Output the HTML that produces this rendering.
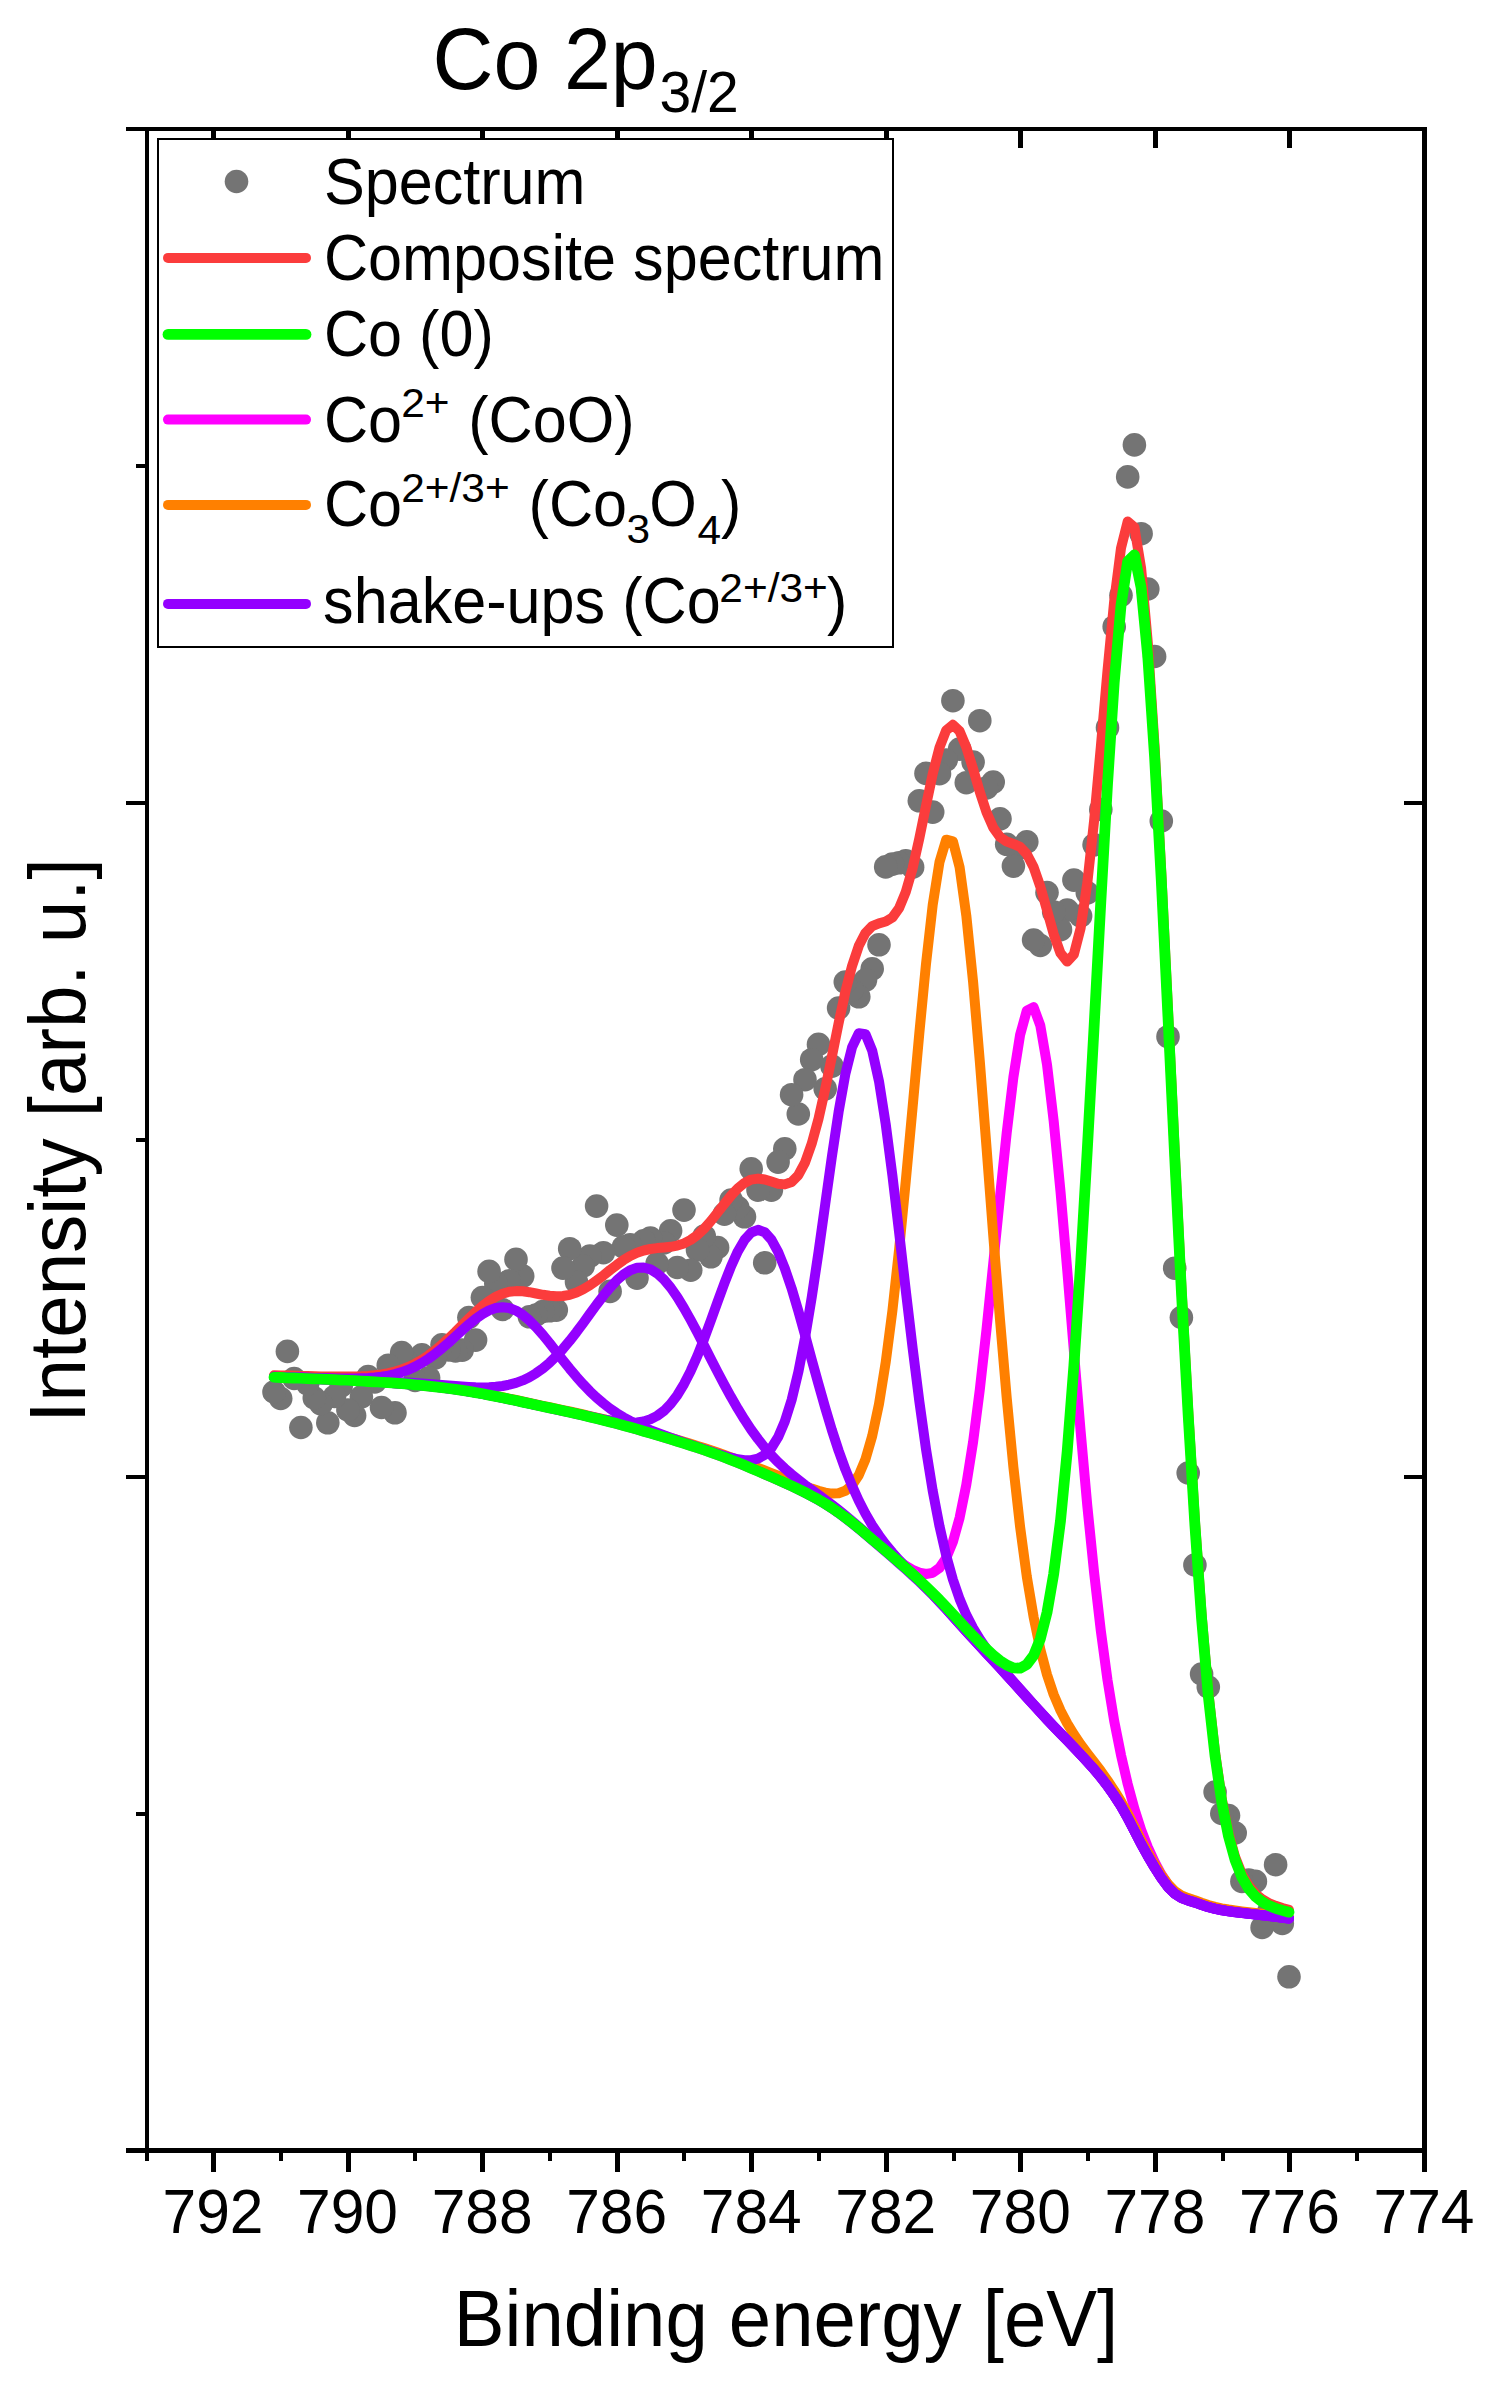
<!DOCTYPE html><html><head><meta charset="utf-8"><title>Co 2p3/2</title>
<style>html,body{margin:0;padding:0;background:#fff;}svg{display:block;}text{font-family:"Liberation Sans",sans-serif;fill:#000;}</style></head><body>
<svg width="1499" height="2394" viewBox="0 0 1499 2394">
<rect x="0" y="0" width="1499" height="2394" fill="#fff"/>
<g fill="#747474">
<circle cx="1289.0" cy="1976.8" r="11.8"/>
<circle cx="1282.3" cy="1923.4" r="11.8"/>
<circle cx="1275.6" cy="1864.7" r="11.8"/>
<circle cx="1268.8" cy="1911.5" r="11.8"/>
<circle cx="1262.1" cy="1927.5" r="11.8"/>
<circle cx="1255.4" cy="1881.4" r="11.8"/>
<circle cx="1248.7" cy="1880.0" r="11.8"/>
<circle cx="1241.9" cy="1881.4" r="11.8"/>
<circle cx="1235.2" cy="1833.0" r="11.8"/>
<circle cx="1228.5" cy="1815.5" r="11.8"/>
<circle cx="1221.8" cy="1813.5" r="11.8"/>
<circle cx="1215.1" cy="1792.0" r="11.8"/>
<circle cx="1208.3" cy="1687.0" r="11.8"/>
<circle cx="1201.6" cy="1674.0" r="11.8"/>
<circle cx="1194.9" cy="1565.0" r="11.8"/>
<circle cx="1188.2" cy="1473.0" r="11.8"/>
<circle cx="1181.4" cy="1317.5" r="11.8"/>
<circle cx="1174.7" cy="1268.2" r="11.8"/>
<circle cx="1168.0" cy="1036.7" r="11.8"/>
<circle cx="1161.3" cy="821.0" r="11.8"/>
<circle cx="1154.6" cy="656.5" r="11.8"/>
<circle cx="1147.8" cy="589.0" r="11.8"/>
<circle cx="1141.1" cy="533.7" r="11.8"/>
<circle cx="1134.4" cy="444.9" r="11.8"/>
<circle cx="1127.7" cy="476.9" r="11.8"/>
<circle cx="1121.0" cy="595.3" r="11.8"/>
<circle cx="1114.2" cy="626.7" r="11.8"/>
<circle cx="1107.5" cy="727.7" r="11.8"/>
<circle cx="1100.8" cy="809.5" r="11.8"/>
<circle cx="1094.1" cy="844.8" r="11.8"/>
<circle cx="1087.3" cy="892.8" r="11.8"/>
<circle cx="1080.6" cy="916.0" r="11.8"/>
<circle cx="1073.9" cy="880.1" r="11.8"/>
<circle cx="1067.2" cy="910.1" r="11.8"/>
<circle cx="1060.5" cy="929.7" r="11.8"/>
<circle cx="1053.7" cy="912.1" r="11.8"/>
<circle cx="1047.0" cy="892.6" r="11.8"/>
<circle cx="1040.3" cy="945.5" r="11.8"/>
<circle cx="1033.6" cy="940.0" r="11.8"/>
<circle cx="1026.8" cy="841.8" r="11.8"/>
<circle cx="1020.1" cy="848.0" r="11.8"/>
<circle cx="1013.4" cy="866.1" r="11.8"/>
<circle cx="1006.7" cy="844.3" r="11.8"/>
<circle cx="1000.0" cy="818.8" r="11.8"/>
<circle cx="993.2" cy="782.1" r="11.8"/>
<circle cx="986.5" cy="788.0" r="11.8"/>
<circle cx="979.8" cy="720.7" r="11.8"/>
<circle cx="973.1" cy="762.1" r="11.8"/>
<circle cx="966.3" cy="782.7" r="11.8"/>
<circle cx="959.6" cy="749.1" r="11.8"/>
<circle cx="952.9" cy="700.7" r="11.8"/>
<circle cx="946.2" cy="760.0" r="11.8"/>
<circle cx="939.5" cy="773.7" r="11.8"/>
<circle cx="932.7" cy="812.1" r="11.8"/>
<circle cx="926.0" cy="773.4" r="11.8"/>
<circle cx="919.3" cy="800.8" r="11.8"/>
<circle cx="912.6" cy="867.2" r="11.8"/>
<circle cx="905.8" cy="860.8" r="11.8"/>
<circle cx="899.1" cy="862.8" r="11.8"/>
<circle cx="892.4" cy="864.1" r="11.8"/>
<circle cx="885.7" cy="866.9" r="11.8"/>
<circle cx="879.0" cy="944.8" r="11.8"/>
<circle cx="872.2" cy="968.8" r="11.8"/>
<circle cx="865.5" cy="980.1" r="11.8"/>
<circle cx="858.8" cy="996.8" r="11.8"/>
<circle cx="852.1" cy="990.0" r="11.8"/>
<circle cx="845.3" cy="982.1" r="11.8"/>
<circle cx="838.6" cy="1008.1" r="11.8"/>
<circle cx="831.9" cy="1066.1" r="11.8"/>
<circle cx="825.2" cy="1088.8" r="11.8"/>
<circle cx="818.5" cy="1044.4" r="11.8"/>
<circle cx="811.7" cy="1059.7" r="11.8"/>
<circle cx="805.0" cy="1079.7" r="11.8"/>
<circle cx="798.3" cy="1114.0" r="11.8"/>
<circle cx="791.6" cy="1094.7" r="11.8"/>
<circle cx="784.8" cy="1148.8" r="11.8"/>
<circle cx="778.1" cy="1162.1" r="11.8"/>
<circle cx="771.4" cy="1190.1" r="11.8"/>
<circle cx="764.7" cy="1262.8" r="11.8"/>
<circle cx="758.0" cy="1190.1" r="11.8"/>
<circle cx="751.2" cy="1168.8" r="11.8"/>
<circle cx="744.5" cy="1216.8" r="11.8"/>
<circle cx="737.8" cy="1207.5" r="11.8"/>
<circle cx="731.1" cy="1200.1" r="11.8"/>
<circle cx="724.4" cy="1214.1" r="11.8"/>
<circle cx="717.6" cy="1247.5" r="11.8"/>
<circle cx="710.9" cy="1256.8" r="11.8"/>
<circle cx="704.2" cy="1236.1" r="11.8"/>
<circle cx="697.5" cy="1250.0" r="11.8"/>
<circle cx="690.7" cy="1270.2" r="11.8"/>
<circle cx="684.0" cy="1210.1" r="11.8"/>
<circle cx="677.3" cy="1267.5" r="11.8"/>
<circle cx="670.6" cy="1230.8" r="11.8"/>
<circle cx="663.9" cy="1243.0" r="11.8"/>
<circle cx="657.1" cy="1263.5" r="11.8"/>
<circle cx="650.4" cy="1238.1" r="11.8"/>
<circle cx="643.7" cy="1240.8" r="11.8"/>
<circle cx="637.0" cy="1278.1" r="11.8"/>
<circle cx="630.2" cy="1244.8" r="11.8"/>
<circle cx="623.5" cy="1246.8" r="11.8"/>
<circle cx="616.8" cy="1225.1" r="11.8"/>
<circle cx="610.1" cy="1291.4" r="11.8"/>
<circle cx="603.4" cy="1252.7" r="11.8"/>
<circle cx="596.6" cy="1206.1" r="11.8"/>
<circle cx="589.9" cy="1256.1" r="11.8"/>
<circle cx="583.2" cy="1266.0" r="11.8"/>
<circle cx="576.5" cy="1282.1" r="11.8"/>
<circle cx="569.7" cy="1248.7" r="11.8"/>
<circle cx="563.0" cy="1268.1" r="11.8"/>
<circle cx="556.3" cy="1310.1" r="11.8"/>
<circle cx="549.6" cy="1310.8" r="11.8"/>
<circle cx="542.9" cy="1311.5" r="11.8"/>
<circle cx="536.1" cy="1315.0" r="11.8"/>
<circle cx="529.4" cy="1316.8" r="11.8"/>
<circle cx="522.7" cy="1276.1" r="11.8"/>
<circle cx="516.0" cy="1259.4" r="11.8"/>
<circle cx="509.2" cy="1280.8" r="11.8"/>
<circle cx="502.5" cy="1309.5" r="11.8"/>
<circle cx="495.8" cy="1283.4" r="11.8"/>
<circle cx="489.1" cy="1271.4" r="11.8"/>
<circle cx="482.4" cy="1297.5" r="11.8"/>
<circle cx="475.6" cy="1340.1" r="11.8"/>
<circle cx="468.9" cy="1317.5" r="11.8"/>
<circle cx="462.2" cy="1350.1" r="11.8"/>
<circle cx="455.5" cy="1351.0" r="11.8"/>
<circle cx="448.8" cy="1350.0" r="11.8"/>
<circle cx="442.0" cy="1344.8" r="11.8"/>
<circle cx="435.3" cy="1358.0" r="11.8"/>
<circle cx="428.6" cy="1377.8" r="11.8"/>
<circle cx="421.9" cy="1354.9" r="11.8"/>
<circle cx="415.1" cy="1380.4" r="11.8"/>
<circle cx="408.4" cy="1363.4" r="11.8"/>
<circle cx="401.7" cy="1352.5" r="11.8"/>
<circle cx="395.0" cy="1412.8" r="11.8"/>
<circle cx="388.3" cy="1365.2" r="11.8"/>
<circle cx="381.5" cy="1407.5" r="11.8"/>
<circle cx="374.8" cy="1382.0" r="11.8"/>
<circle cx="368.1" cy="1376.5" r="11.8"/>
<circle cx="361.4" cy="1396.8" r="11.8"/>
<circle cx="354.6" cy="1415.5" r="11.8"/>
<circle cx="347.9" cy="1410.0" r="11.8"/>
<circle cx="341.2" cy="1386.0" r="11.8"/>
<circle cx="334.5" cy="1396.5" r="11.8"/>
<circle cx="327.8" cy="1422.8" r="11.8"/>
<circle cx="321.0" cy="1404.0" r="11.8"/>
<circle cx="314.3" cy="1398.0" r="11.8"/>
<circle cx="307.6" cy="1383.8" r="11.8"/>
<circle cx="300.9" cy="1427.5" r="11.8"/>
<circle cx="294.1" cy="1378.5" r="11.8"/>
<circle cx="287.4" cy="1351.4" r="11.8"/>
<circle cx="280.7" cy="1398.5" r="11.8"/>
<circle cx="274.0" cy="1392.0" r="11.8"/>
</g>
<polyline points="1289.0,1909.9 1282.3,1908.1 1275.6,1905.8 1268.8,1903.0 1262.1,1899.2 1255.4,1893.8 1248.7,1885.8 1241.9,1874.2 1235.2,1857.2 1228.5,1832.8 1221.8,1798.9 1215.1,1752.7 1208.3,1692.0 1201.6,1614.8 1194.9,1520.6 1188.2,1410.7 1181.4,1286.5 1174.7,1151.2 1168.0,1010.4 1161.3,872.5 1154.6,746.8 1147.8,642.8 1141.1,568.0 1134.4,527.2 1127.7,521.5 1121.0,548.1 1114.2,601.1 1107.5,670.8 1100.8,747.2 1094.1,820.7 1087.3,883.0 1080.6,928.3 1073.9,954.3 1067.2,961.5 1060.5,953.2 1053.7,934.2 1047.0,910.2 1040.3,886.5 1033.6,867.1 1026.8,854.0 1020.1,846.9 1013.4,843.9 1006.7,841.6 1000.0,837.0 993.2,827.6 986.5,812.3 979.8,791.9 973.1,768.9 966.3,747.2 959.6,731.2 952.9,724.8 946.2,730.3 939.5,747.5 932.7,774.0 926.0,805.8 919.3,838.6 912.6,868.3 905.8,891.9 899.1,908.2 892.4,917.5 885.7,921.5 879.0,923.3 872.2,926.1 865.5,932.9 858.8,945.8 852.1,965.8 845.3,992.1 838.6,1023.2 831.9,1056.4 825.2,1089.1 818.5,1118.9 811.7,1143.7 805.0,1162.6 798.3,1175.2 791.6,1182.0 784.8,1184.4 778.1,1183.7 771.4,1181.6 764.7,1179.5 758.0,1178.6 751.2,1179.6 744.5,1182.9 737.8,1188.3 731.1,1195.5 724.4,1203.8 717.6,1212.5 710.9,1221.0 704.2,1228.6 697.5,1235.0 690.7,1239.9 684.0,1243.4 677.3,1245.6 670.6,1246.8 663.9,1247.5 657.1,1248.1 650.4,1249.0 643.7,1250.5 637.0,1252.8 630.2,1256.0 623.5,1260.1 616.8,1264.9 610.1,1270.0 603.4,1275.4 596.6,1280.5 589.9,1285.3 583.2,1289.3 576.5,1292.5 569.7,1294.8 563.0,1296.0 556.3,1296.3 549.6,1295.8 542.9,1294.8 536.1,1293.5 529.4,1292.2 522.7,1291.3 516.0,1291.1 509.2,1291.8 502.5,1293.7 495.8,1296.8 489.1,1301.0 482.4,1306.1 475.6,1312.0 468.9,1318.4 462.2,1325.0 455.5,1331.8 448.8,1338.3 442.0,1344.5 435.3,1350.2 428.6,1355.3 421.9,1359.8 415.1,1363.7 408.4,1366.9 401.7,1369.5 395.0,1371.6 388.3,1373.2 381.5,1374.4 374.8,1375.3 368.1,1375.9 361.4,1376.3 354.6,1376.5 347.9,1376.6 341.2,1376.6 334.5,1376.6 327.8,1376.5 321.0,1376.4 314.3,1376.2 307.6,1376.1 300.9,1375.9 294.1,1375.8 287.4,1375.6 280.7,1375.5 274.0,1375.3" fill="none" stroke="#FB3C3C" stroke-width="10" stroke-linejoin="round" stroke-linecap="round"/>
<polyline points="1289.0,1918.2 1282.3,1917.3 1275.6,1916.5 1268.8,1915.6 1262.1,1914.9 1255.4,1914.1 1248.7,1913.3 1241.9,1912.5 1235.2,1911.7 1228.5,1910.7 1221.8,1909.6 1215.1,1908.2 1208.3,1906.4 1201.6,1904.1 1194.9,1901.6 1188.2,1899.5 1181.4,1896.6 1174.7,1892.0 1168.0,1884.5 1161.3,1874.3 1154.6,1861.8 1147.8,1847.1 1141.1,1829.7 1134.4,1808.8 1127.7,1784.0 1121.0,1755.1 1114.2,1721.0 1107.5,1680.0 1100.8,1630.7 1094.1,1572.6 1087.3,1505.7 1080.6,1431.0 1073.9,1351.1 1067.2,1269.7 1060.5,1191.4 1053.7,1121.3 1047.0,1064.5 1040.3,1025.5 1033.6,1007.1 1026.8,1010.6 1020.1,1034.9 1013.4,1077.1 1006.7,1132.8 1000.0,1196.8 993.2,1263.9 986.5,1329.5 979.8,1389.7 973.1,1441.9 966.3,1484.7 959.6,1517.8 952.9,1541.9 946.2,1558.1 939.5,1567.9 932.7,1572.8 926.0,1574.0 919.3,1572.7 912.6,1569.8 905.8,1565.8 899.1,1561.1 892.4,1556.0 885.7,1550.6 879.0,1545.1 872.2,1539.5 865.5,1533.9 858.8,1528.3 852.1,1522.9 845.3,1517.7 838.6,1512.8 831.9,1508.2 825.2,1503.9 818.5,1499.9 811.7,1496.2 805.0,1492.7 798.3,1489.4 791.6,1486.2 784.8,1483.1 778.1,1480.2 771.4,1477.2 764.7,1474.3 758.0,1471.3 751.2,1468.4 744.5,1465.6 737.8,1462.8 731.1,1460.1 724.4,1457.5 717.6,1455.0 710.9,1452.5 704.2,1450.2 697.5,1447.9 690.7,1445.7 684.0,1443.6 677.3,1441.5 670.6,1439.4 663.9,1437.4 657.1,1435.3 650.4,1433.3 643.7,1431.4 637.0,1429.4 630.2,1427.5 623.5,1425.6 616.8,1423.8 610.1,1422.0 603.4,1420.3 596.6,1418.7 589.9,1417.1 583.2,1415.5 576.5,1414.0 569.7,1412.4 563.0,1411.0 556.3,1409.5 549.6,1408.0 542.9,1406.6 536.1,1405.1 529.4,1403.6 522.7,1402.2 516.0,1400.7 509.2,1399.3 502.5,1397.9 495.8,1396.5 489.1,1395.2 482.4,1393.9 475.6,1392.7 468.9,1391.6 462.2,1390.5 455.5,1389.5 448.8,1388.6 442.0,1387.7 435.3,1386.9 428.6,1386.2 421.9,1385.5 415.1,1384.9 408.4,1384.3 401.7,1383.8 395.0,1383.3 388.3,1382.8 381.5,1382.4 374.8,1382.0 368.1,1381.6 361.4,1381.2 354.6,1380.8 347.9,1380.5 341.2,1380.1 334.5,1379.8 327.8,1379.5 321.0,1379.2 314.3,1378.9 307.6,1378.6 300.9,1378.4 294.1,1378.1 287.4,1377.8 280.7,1377.6 274.0,1377.4" fill="none" stroke="#FF00FF" stroke-width="10" stroke-linejoin="round" stroke-linecap="round"/>
<polyline points="1289.0,1917.3 1282.3,1916.4 1275.6,1915.5 1268.8,1914.6 1262.1,1913.8 1255.4,1913.0 1248.7,1912.2 1241.9,1911.4 1235.2,1910.5 1228.5,1909.5 1221.8,1908.3 1215.1,1906.9 1208.3,1905.0 1201.6,1902.7 1194.9,1900.2 1188.2,1898.1 1181.4,1895.4 1174.7,1891.0 1168.0,1884.0 1161.3,1874.9 1154.6,1864.2 1147.8,1852.5 1141.1,1840.1 1134.4,1826.8 1127.7,1813.6 1121.0,1801.3 1114.2,1790.4 1107.5,1780.3 1100.8,1770.9 1094.1,1762.1 1087.3,1753.3 1080.6,1744.3 1073.9,1734.4 1067.2,1723.4 1060.5,1710.5 1053.7,1694.6 1047.0,1674.6 1040.3,1649.2 1033.6,1616.9 1026.8,1576.6 1020.1,1526.9 1013.4,1467.3 1006.7,1397.8 1000.0,1319.6 993.2,1234.9 986.5,1147.2 979.8,1061.2 973.1,982.0 966.3,915.6 959.6,867.3 952.9,841.3 946.2,839.7 939.5,862.0 932.7,905.0 926.0,964.0 919.3,1033.4 912.6,1107.3 905.8,1180.8 899.1,1249.6 892.4,1310.7 885.7,1362.3 879.0,1404.0 872.2,1436.0 865.5,1459.2 858.8,1475.1 852.1,1485.1 845.3,1490.8 838.6,1493.3 831.9,1493.6 825.2,1492.6 818.5,1490.8 811.7,1488.6 805.0,1486.1 798.3,1483.5 791.6,1480.9 784.8,1478.3 778.1,1475.7 771.4,1473.1 764.7,1470.5 758.0,1467.8 751.2,1465.1 744.5,1462.5 737.8,1459.9 731.1,1457.4 724.4,1454.9 717.6,1452.5 710.9,1450.2 704.2,1448.0 697.5,1445.9 690.7,1443.8 684.0,1441.7 677.3,1439.7 670.6,1437.7 663.9,1435.8 657.1,1433.8 650.4,1431.9 643.7,1430.0 637.0,1428.1 630.2,1426.2 623.5,1424.4 616.8,1422.6 610.1,1420.9 603.4,1419.2 596.6,1417.6 589.9,1416.0 583.2,1414.5 576.5,1413.0 569.7,1411.5 563.0,1410.1 556.3,1408.6 549.6,1407.2 542.9,1405.8 536.1,1404.3 529.4,1402.9 522.7,1401.5 516.0,1400.0 509.2,1398.6 502.5,1397.2 495.8,1395.9 489.1,1394.6 482.4,1393.3 475.6,1392.1 468.9,1391.0 462.2,1389.9 455.5,1389.0 448.8,1388.0 442.0,1387.2 435.3,1386.4 428.6,1385.7 421.9,1385.0 415.1,1384.4 408.4,1383.9 401.7,1383.3 395.0,1382.9 388.3,1382.4 381.5,1382.0 374.8,1381.6 368.1,1381.2 361.4,1380.8 354.6,1380.5 347.9,1380.1 341.2,1379.8 334.5,1379.5 327.8,1379.2 321.0,1378.9 314.3,1378.6 307.6,1378.3 300.9,1378.1 294.1,1377.8 287.4,1377.6 280.7,1377.3 274.0,1377.1" fill="none" stroke="#FF8000" stroke-width="10" stroke-linejoin="round" stroke-linecap="round"/>
<polyline points="1289.0,1918.6 1282.3,1917.7 1275.6,1916.8 1268.8,1916.0 1262.1,1915.3 1255.4,1914.5 1248.7,1913.8 1241.9,1913.1 1235.2,1912.3 1228.5,1911.3 1221.8,1910.3 1215.1,1908.9 1208.3,1907.2 1201.6,1905.0 1194.9,1902.6 1188.2,1900.6 1181.4,1898.0 1174.7,1893.8 1168.0,1887.1 1161.3,1878.1 1154.6,1867.6 1147.8,1856.1 1141.1,1844.0 1134.4,1831.0 1127.7,1818.1 1121.0,1806.2 1114.2,1795.7 1107.5,1786.1 1100.8,1777.4 1094.1,1769.5 1087.3,1762.0 1080.6,1754.7 1073.9,1747.6 1067.2,1740.6 1060.5,1733.7 1053.7,1726.8 1047.0,1719.7 1040.3,1712.4 1033.6,1705.1 1026.8,1697.6 1020.1,1690.2 1013.4,1682.7 1006.7,1675.4 1000.0,1668.0 993.2,1660.7 986.5,1653.5 979.8,1646.2 973.1,1638.9 966.3,1631.5 959.6,1624.1 952.9,1616.6 946.2,1609.2 939.5,1602.0 932.7,1594.9 926.0,1588.2 919.3,1581.7 912.6,1575.5 905.8,1569.4 899.1,1563.5 892.4,1557.6 885.7,1551.8 879.0,1546.0 872.2,1540.2 865.5,1534.5 858.8,1528.8 852.1,1523.4 845.3,1518.1 838.6,1513.1 831.9,1508.5 825.2,1504.1 818.5,1500.0 811.7,1496.3 805.0,1492.7 798.3,1489.3 791.6,1486.1 784.8,1483.0 778.1,1480.0 771.4,1477.0 764.7,1474.0 758.0,1471.0 751.2,1468.1 744.5,1465.2 737.8,1462.4 731.1,1459.6 724.4,1456.9 717.6,1454.3 710.9,1451.8 704.2,1449.4 697.5,1447.0 690.7,1444.7 684.0,1442.4 677.3,1440.1 670.6,1437.7 663.9,1435.3 657.1,1432.8 650.4,1430.2 643.7,1427.4 637.0,1424.3 630.2,1421.0 623.5,1417.3 616.8,1413.2 610.1,1408.6 603.4,1403.4 596.6,1397.7 589.9,1391.3 583.2,1384.3 576.5,1376.8 569.7,1368.7 563.0,1360.3 556.3,1351.7 549.6,1343.1 542.9,1334.9 536.1,1327.2 529.4,1320.4 522.7,1314.8 516.0,1310.6 509.2,1308.0 502.5,1307.2 495.8,1308.0 489.1,1310.4 482.4,1314.1 475.6,1318.8 468.9,1324.3 462.2,1330.3 455.5,1336.4 448.8,1342.5 442.0,1348.3 435.3,1353.7 428.6,1358.6 421.9,1362.9 415.1,1366.6 408.4,1369.7 401.7,1372.1 395.0,1374.1 388.3,1375.6 381.5,1376.7 374.8,1377.5 368.1,1378.0 361.4,1378.3 354.6,1378.5 347.9,1378.5 341.2,1378.5 334.5,1378.4 327.8,1378.2 321.0,1378.1 314.3,1377.9 307.6,1377.7 300.9,1377.5 294.1,1377.3 287.4,1377.1 280.7,1376.9 274.0,1376.7" fill="none" stroke="#9400FF" stroke-width="10" stroke-linejoin="round" stroke-linecap="round"/>
<polyline points="1289.0,1918.4 1282.3,1917.5 1275.6,1916.6 1268.8,1915.8 1262.1,1915.1 1255.4,1914.3 1248.7,1913.6 1241.9,1912.8 1235.2,1912.0 1228.5,1911.1 1221.8,1910.0 1215.1,1908.7 1208.3,1906.9 1201.6,1904.7 1194.9,1902.3 1188.2,1900.3 1181.4,1897.8 1174.7,1893.6 1168.0,1886.8 1161.3,1877.8 1154.6,1867.3 1147.8,1855.8 1141.1,1843.7 1134.4,1830.7 1127.7,1817.8 1121.0,1805.8 1114.2,1795.3 1107.5,1785.8 1100.8,1777.1 1094.1,1769.1 1087.3,1761.6 1080.6,1754.3 1073.9,1747.2 1067.2,1740.2 1060.5,1733.3 1053.7,1726.3 1047.0,1719.2 1040.3,1711.9 1033.6,1704.5 1026.8,1697.1 1020.1,1689.6 1013.4,1682.1 1006.7,1674.7 1000.0,1667.4 993.2,1660.0 986.5,1652.8 979.8,1645.5 973.1,1638.1 966.3,1630.7 959.6,1623.2 952.9,1615.7 946.2,1608.3 939.5,1601.0 932.7,1593.9 926.0,1587.1 919.3,1580.6 912.6,1574.3 905.8,1568.2 899.1,1562.2 892.4,1556.2 885.7,1550.3 879.0,1544.4 872.2,1538.5 865.5,1532.6 858.8,1526.7 852.1,1521.0 845.3,1515.4 838.6,1510.0 831.9,1504.8 825.2,1499.8 818.5,1494.8 811.7,1489.9 805.0,1485.0 798.3,1479.8 791.6,1474.4 784.8,1468.5 778.1,1462.2 771.4,1455.2 764.7,1447.5 758.0,1439.0 751.2,1429.7 744.5,1419.6 737.8,1408.7 731.1,1397.1 724.4,1384.8 717.6,1372.0 710.9,1359.0 704.2,1345.8 697.5,1332.7 690.7,1320.0 684.0,1308.1 677.3,1297.1 670.6,1287.5 663.9,1279.5 657.1,1273.4 650.4,1269.3 643.7,1267.5 637.0,1267.8 630.2,1270.2 623.5,1274.5 616.8,1280.3 610.1,1287.5 603.4,1295.7 596.6,1304.6 589.9,1313.8 583.2,1323.1 576.5,1332.1 569.7,1340.8 563.0,1348.8 556.3,1356.2 549.6,1362.7 542.9,1368.4 536.1,1373.2 529.4,1377.2 522.7,1380.4 516.0,1382.9 509.2,1384.7 502.5,1386.0 495.8,1386.8 489.1,1387.3 482.4,1387.4 475.6,1387.3 468.9,1387.0 462.2,1386.6 455.5,1386.1 448.8,1385.6 442.0,1385.1 435.3,1384.6 428.6,1384.0 421.9,1383.5 415.1,1383.1 408.4,1382.6 401.7,1382.2 395.0,1381.8 388.3,1381.4 381.5,1381.0 374.8,1380.7 368.1,1380.3 361.4,1380.0 354.6,1379.7 347.9,1379.4 341.2,1379.1 334.5,1378.8 327.8,1378.6 321.0,1378.3 314.3,1378.0 307.6,1377.8 300.9,1377.6 294.1,1377.3 287.4,1377.1 280.7,1376.9 274.0,1376.7" fill="none" stroke="#9400FF" stroke-width="10" stroke-linejoin="round" stroke-linecap="round"/>
<polyline points="1289.0,1918.6 1282.3,1917.7 1275.6,1916.9 1268.8,1916.1 1262.1,1915.3 1255.4,1914.6 1248.7,1913.8 1241.9,1913.1 1235.2,1912.3 1228.5,1911.4 1221.8,1910.3 1215.1,1908.9 1208.3,1907.2 1201.6,1905.0 1194.9,1902.6 1188.2,1900.6 1181.4,1898.1 1174.7,1893.8 1168.0,1887.1 1161.3,1878.1 1154.6,1867.6 1147.8,1856.1 1141.1,1844.0 1134.4,1831.0 1127.7,1818.1 1121.0,1806.2 1114.2,1795.7 1107.5,1786.1 1100.8,1777.4 1094.1,1769.5 1087.3,1762.0 1080.6,1754.7 1073.9,1747.6 1067.2,1740.6 1060.5,1733.7 1053.7,1726.7 1047.0,1719.6 1040.3,1712.4 1033.6,1705.0 1026.8,1697.6 1020.1,1690.1 1013.4,1682.7 1006.7,1675.3 1000.0,1667.9 993.2,1660.6 986.5,1653.4 979.8,1646.1 973.1,1638.8 966.3,1631.4 959.6,1623.9 952.9,1616.4 946.2,1608.9 939.5,1601.6 932.7,1594.4 926.0,1587.5 919.3,1580.6 912.6,1573.9 905.8,1567.1 899.1,1560.0 892.4,1552.5 885.7,1544.4 879.0,1535.4 872.2,1525.3 865.5,1513.8 858.8,1500.7 852.1,1485.9 845.3,1469.2 838.6,1450.6 831.9,1430.1 825.2,1407.8 818.5,1384.1 811.7,1359.6 805.0,1334.9 798.3,1310.8 791.6,1288.3 784.8,1268.4 778.1,1251.9 771.4,1239.7 764.7,1232.2 758.0,1229.8 751.2,1232.5 744.5,1239.9 737.8,1251.4 731.1,1266.2 724.4,1283.3 717.6,1301.7 710.9,1320.4 704.2,1338.6 697.5,1355.6 690.7,1370.9 684.0,1384.1 677.3,1395.2 670.6,1404.1 663.9,1410.9 657.1,1415.9 650.4,1419.3 643.7,1421.4 637.0,1422.5 630.2,1422.7 623.5,1422.4 616.8,1421.6 610.1,1420.5 603.4,1419.3 596.6,1417.9 589.9,1416.5 583.2,1415.1 576.5,1413.6 569.7,1412.2 563.0,1410.7 556.3,1409.3 549.6,1407.8 542.9,1406.4 536.1,1404.9 529.4,1403.5 522.7,1402.1 516.0,1400.6 509.2,1399.2 502.5,1397.8 495.8,1396.4 489.1,1395.1 482.4,1393.8 475.6,1392.6 468.9,1391.5 462.2,1390.4 455.5,1389.4 448.8,1388.5 442.0,1387.6 435.3,1386.9 428.6,1386.1 421.9,1385.5 415.1,1384.8 408.4,1384.3 401.7,1383.7 395.0,1383.3 388.3,1382.8 381.5,1382.4 374.8,1381.9 368.1,1381.5 361.4,1381.2 354.6,1380.8 347.9,1380.5 341.2,1380.1 334.5,1379.8 327.8,1379.5 321.0,1379.2 314.3,1378.9 307.6,1378.6 300.9,1378.4 294.1,1378.1 287.4,1377.8 280.7,1377.6 274.0,1377.4" fill="none" stroke="#9400FF" stroke-width="10" stroke-linejoin="round" stroke-linecap="round"/>
<polyline points="1289.0,1918.5 1282.3,1917.6 1275.6,1916.7 1268.8,1915.9 1262.1,1915.2 1255.4,1914.4 1248.7,1913.7 1241.9,1912.9 1235.2,1912.1 1228.5,1911.2 1221.8,1910.1 1215.1,1908.8 1208.3,1907.0 1201.6,1904.8 1194.9,1902.4 1188.2,1900.4 1181.4,1897.9 1174.7,1893.6 1168.0,1886.9 1161.3,1877.9 1154.6,1867.4 1147.8,1855.9 1141.1,1843.7 1134.4,1830.8 1127.7,1817.8 1121.0,1805.9 1114.2,1795.4 1107.5,1785.8 1100.8,1777.1 1094.1,1769.1 1087.3,1761.6 1080.6,1754.3 1073.9,1747.1 1067.2,1740.1 1060.5,1733.2 1053.7,1726.1 1047.0,1719.0 1040.3,1711.7 1033.6,1704.3 1026.8,1696.7 1020.1,1689.1 1013.4,1681.5 1006.7,1673.7 1000.0,1665.8 993.2,1657.6 986.5,1648.8 979.8,1639.1 973.1,1628.0 966.3,1614.9 959.6,1599.0 952.9,1579.5 946.2,1555.5 939.5,1526.2 932.7,1490.8 926.0,1449.1 919.3,1401.1 912.6,1347.8 905.8,1290.7 899.1,1232.2 892.4,1175.5 885.7,1124.0 879.0,1081.3 872.2,1050.6 865.5,1034.2 858.8,1033.2 852.1,1047.1 845.3,1074.3 838.6,1111.9 831.9,1156.4 825.2,1204.4 818.5,1252.3 811.7,1297.5 805.0,1337.9 798.3,1372.2 791.6,1400.0 784.8,1421.5 778.1,1437.2 771.4,1448.0 764.7,1454.8 758.0,1458.6 751.2,1460.2 744.5,1460.2 737.8,1459.3 731.1,1457.7 724.4,1455.8 717.6,1453.7 710.9,1451.5 704.2,1449.3 697.5,1447.2 690.7,1445.1 684.0,1443.0 677.3,1440.9 670.6,1438.9 663.9,1436.9 657.1,1434.9 650.4,1432.9 643.7,1431.0 637.0,1429.1 630.2,1427.2 623.5,1425.3 616.8,1423.5 610.1,1421.8 603.4,1420.1 596.6,1418.4 589.9,1416.8 583.2,1415.3 576.5,1413.7 569.7,1412.2 563.0,1410.8 556.3,1409.3 549.6,1407.9 542.9,1406.4 536.1,1405.0 529.4,1403.5 522.7,1402.0 516.0,1400.6 509.2,1399.2 502.5,1397.8 495.8,1396.4 489.1,1395.1 482.4,1393.8 475.6,1392.6 468.9,1391.5 462.2,1390.4 455.5,1389.4 448.8,1388.5 442.0,1387.6 435.3,1386.8 428.6,1386.1 421.9,1385.4 415.1,1384.8 408.4,1384.3 401.7,1383.7 395.0,1383.2 388.3,1382.8 381.5,1382.3 374.8,1381.9 368.1,1381.5 361.4,1381.1 354.6,1380.8 347.9,1380.4 341.2,1380.1 334.5,1379.8 327.8,1379.5 321.0,1379.2 314.3,1378.9 307.6,1378.6 300.9,1378.3 294.1,1378.1 287.4,1377.8 280.7,1377.6 274.0,1377.3" fill="none" stroke="#9400FF" stroke-width="10" stroke-linejoin="round" stroke-linecap="round"/>
<polyline points="1289.0,1912.2 1282.3,1910.4 1275.6,1908.3 1268.8,1905.6 1262.1,1901.8 1255.4,1896.5 1248.7,1888.7 1241.9,1877.2 1235.2,1860.3 1228.5,1836.1 1221.8,1802.3 1215.1,1756.3 1208.3,1695.8 1201.6,1618.8 1194.9,1525.0 1188.2,1415.4 1181.4,1291.5 1174.7,1156.9 1168.0,1017.1 1161.3,880.6 1154.6,757.2 1147.8,656.7 1141.1,587.4 1134.4,554.9 1127.7,561.3 1121.0,605.4 1114.2,682.4 1107.5,784.2 1100.8,901.9 1094.1,1026.5 1087.3,1149.5 1080.6,1264.1 1073.9,1365.7 1067.2,1451.5 1060.5,1520.7 1053.7,1573.8 1047.0,1612.5 1040.3,1638.9 1033.6,1655.5 1026.8,1664.6 1020.1,1668.2 1013.4,1667.9 1006.7,1665.1 1000.0,1660.7 993.2,1655.2 986.5,1649.0 979.8,1642.5 973.1,1635.7 966.3,1628.7 959.6,1621.5 952.9,1614.2 946.2,1607.0 939.5,1599.9 932.7,1593.1 926.0,1586.5 919.3,1580.1 912.6,1574.0 905.8,1568.0 899.1,1562.2 892.4,1556.4 885.7,1550.7 879.0,1545.0 872.2,1539.3 865.5,1533.6 858.8,1528.0 852.1,1522.6 845.3,1517.4 838.6,1512.5 831.9,1507.9 825.2,1503.6 818.5,1499.6 811.7,1495.9 805.0,1492.4 798.3,1489.1 791.6,1485.9 784.8,1482.8 778.1,1479.9 771.4,1476.9 764.7,1474.0 758.0,1471.1 751.2,1468.2 744.5,1465.3 737.8,1462.6 731.1,1459.9 724.4,1457.2 717.6,1454.7 710.9,1452.3 704.2,1450.0 697.5,1447.7 690.7,1445.5 684.0,1443.4 677.3,1441.3 670.6,1439.2 663.9,1437.2 657.1,1435.1 650.4,1433.1 643.7,1431.2 637.0,1429.2 630.2,1427.3 623.5,1425.5 616.8,1423.6 610.1,1421.9 603.4,1420.2 596.6,1418.5 589.9,1416.9 583.2,1415.3 576.5,1413.8 569.7,1412.3 563.0,1410.8 556.3,1409.3 549.6,1407.9 542.9,1406.4 536.1,1405.0 529.4,1403.5 522.7,1402.1 516.0,1400.6 509.2,1399.2 502.5,1397.8 495.8,1396.4 489.1,1395.1 482.4,1393.8 475.6,1392.6 468.9,1391.4 462.2,1390.4 455.5,1389.4 448.8,1388.5 442.0,1387.6 435.3,1386.8 428.6,1386.1 421.9,1385.4 415.1,1384.8 408.4,1384.2 401.7,1383.7 395.0,1383.2 388.3,1382.7 381.5,1382.3 374.8,1381.9 368.1,1381.5 361.4,1381.1 354.6,1380.7 347.9,1380.4 341.2,1380.1 334.5,1379.7 327.8,1379.4 321.0,1379.1 314.3,1378.8 307.6,1378.6 300.9,1378.3 294.1,1378.0 287.4,1377.8 280.7,1377.5 274.0,1377.3" fill="none" stroke="#00FF00" stroke-width="10.8" stroke-linejoin="round" stroke-linecap="round"/>
<g fill="#000" shape-rendering="crispEdges">
<rect x="126" y="127" width="1301" height="4"/>
<rect x="126" y="2148" width="1301" height="5"/>
<rect x="145" y="127" width="4" height="2034"/>
<rect x="1422" y="127" width="5" height="2045"/>
<rect x="136" y="464" width="9" height="4"/>
<rect x="126" y="801" width="19" height="4"/>
<rect x="1404" y="801" width="18" height="4"/>
<rect x="136" y="1138" width="9" height="4"/>
<rect x="126" y="1475" width="19" height="4"/>
<rect x="1404" y="1475" width="18" height="4"/>
<rect x="136" y="1812" width="9" height="4"/>
<rect x="1355" y="2153" width="4" height="8"/>
<rect x="1287" y="2153" width="5" height="19"/>
<rect x="1287" y="131" width="5" height="17"/>
<rect x="1221" y="2153" width="4" height="8"/>
<rect x="1153" y="2153" width="5" height="19"/>
<rect x="1153" y="131" width="5" height="17"/>
<rect x="1086" y="2153" width="4" height="8"/>
<rect x="1018" y="2153" width="5" height="19"/>
<rect x="1018" y="131" width="5" height="17"/>
<rect x="952" y="2153" width="4" height="8"/>
<rect x="884" y="2153" width="5" height="19"/>
<rect x="884" y="131" width="5" height="17"/>
<rect x="817" y="2153" width="4" height="8"/>
<rect x="749" y="2153" width="5" height="19"/>
<rect x="749" y="131" width="5" height="17"/>
<rect x="682" y="2153" width="4" height="8"/>
<rect x="615" y="2153" width="5" height="19"/>
<rect x="615" y="131" width="5" height="17"/>
<rect x="548" y="2153" width="4" height="8"/>
<rect x="480" y="2153" width="5" height="19"/>
<rect x="480" y="131" width="5" height="17"/>
<rect x="413" y="2153" width="4" height="8"/>
<rect x="346" y="2153" width="5" height="19"/>
<rect x="346" y="131" width="5" height="17"/>
<rect x="279" y="2153" width="4" height="8"/>
<rect x="211" y="2153" width="5" height="19"/>
<rect x="211" y="131" width="5" height="17"/>
</g>
<text transform="translate(1424.00,2233.20) scale(0.96,1)" font-size="63" text-anchor="middle">774</text>
<text transform="translate(1289.44,2233.20) scale(0.96,1)" font-size="63" text-anchor="middle">776</text>
<text transform="translate(1154.88,2233.20) scale(0.96,1)" font-size="63" text-anchor="middle">778</text>
<text transform="translate(1020.32,2233.20) scale(0.96,1)" font-size="63" text-anchor="middle">780</text>
<text transform="translate(885.76,2233.20) scale(0.96,1)" font-size="63" text-anchor="middle">782</text>
<text transform="translate(751.20,2233.20) scale(0.96,1)" font-size="63" text-anchor="middle">784</text>
<text transform="translate(616.64,2233.20) scale(0.96,1)" font-size="63" text-anchor="middle">786</text>
<text transform="translate(482.08,2233.20) scale(0.96,1)" font-size="63" text-anchor="middle">788</text>
<text transform="translate(347.52,2233.20) scale(0.96,1)" font-size="63" text-anchor="middle">790</text>
<text transform="translate(212.96,2233.20) scale(0.96,1)" font-size="63" text-anchor="middle">792</text>
<text transform="translate(453.80,2345.50) scale(0.96,1)" font-size="79.3" text-anchor="start">Binding energy [eV]</text>
<text transform="translate(84.90,1422.70) rotate(-90) scale(0.958,1)" font-size="79.7" text-anchor="start">Intensity [arb. u.]</text>
<text transform="translate(432.60,89.00) scale(0.97,1)" font-size="87" text-anchor="start">Co 2p</text>
<text transform="translate(659.50,111.60) scale(1.0,1)" font-size="57" text-anchor="start">3/2</text>
<rect x="158" y="139" width="735" height="508" fill="#fff" stroke="#000" stroke-width="2" shape-rendering="crispEdges"/>
<circle cx="236.5" cy="181.5" r="11.8" fill="#747474"/>
<line x1="168" y1="257.9" x2="306" y2="257.9" stroke="#FB3C3C" stroke-width="10" stroke-linecap="round"/>
<line x1="168" y1="334.4" x2="306" y2="334.4" stroke="#00FF00" stroke-width="10.8" stroke-linecap="round"/>
<line x1="168" y1="419.6" x2="306" y2="419.6" stroke="#FF00FF" stroke-width="10" stroke-linecap="round"/>
<line x1="168" y1="504.9" x2="306" y2="504.9" stroke="#FF8000" stroke-width="10" stroke-linecap="round"/>
<line x1="168" y1="603.9" x2="306" y2="603.9" stroke="#9400FF" stroke-width="10" stroke-linecap="round"/>
<text transform="translate(323.90,204.00) scale(0.9495,1)" font-size="64.4" text-anchor="start">Spectrum</text>
<text transform="translate(323.90,280.30) scale(0.9495,1)" font-size="64.4" text-anchor="start">Composite spectrum</text>
<text transform="translate(323.90,355.80) scale(0.9495,1)" font-size="64.4" text-anchor="start">Co (0)</text>
<text transform="translate(323.90,441.50) scale(0.9495,1)" font-size="64.4" text-anchor="start">Co</text>
<text transform="translate(401.20,416.50) scale(1.035,1)" font-size="41" text-anchor="start">2+</text>
<text transform="translate(468.20,441.50) scale(0.9495,1)" font-size="64.4" text-anchor="start">(CoO)</text>
<text transform="translate(323.90,526.00) scale(0.9495,1)" font-size="64.4" text-anchor="start">Co</text>
<text transform="translate(401.20,501.50) scale(1.035,1)" font-size="41" text-anchor="start">2+/3+</text>
<text transform="translate(528.60,526.00) scale(0.9495,1)" font-size="64.4" text-anchor="start">(Co</text>
<text transform="translate(626.40,543.00) scale(1.035,1)" font-size="41" text-anchor="start">3</text>
<text transform="translate(649.30,526.00) scale(0.9495,1)" font-size="64.4" text-anchor="start">O</text>
<text transform="translate(697.50,543.60) scale(1.035,1)" font-size="41" text-anchor="start">4</text>
<text transform="translate(721.00,526.00) scale(0.9495,1)" font-size="64.4" text-anchor="start">)</text>
<text transform="translate(323.10,623.30) scale(0.9495,1)" font-size="64.4" text-anchor="start">shake-ups (Co</text>
<text transform="translate(719.30,601.70) scale(1.035,1)" font-size="41" text-anchor="start">2+/3+</text>
<text transform="translate(827.00,623.30) scale(0.9495,1)" font-size="64.4" text-anchor="start">)</text>
</svg></body></html>
